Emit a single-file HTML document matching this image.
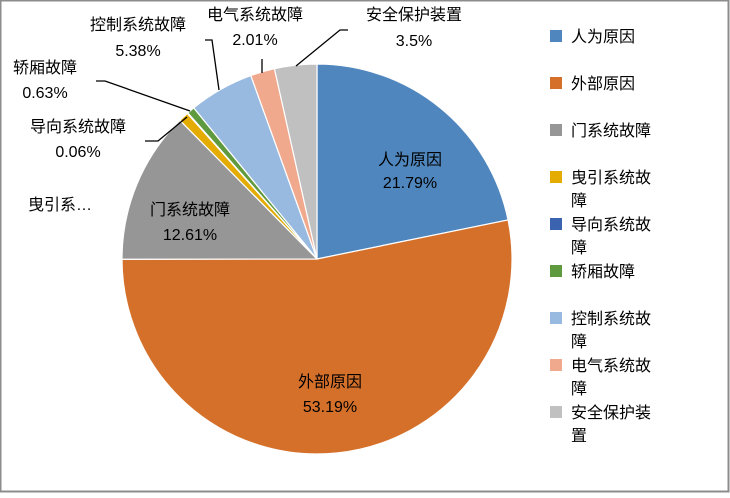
<!DOCTYPE html>
<html><head><meta charset="utf-8"><style>
html,body{margin:0;padding:0;background:#fff}
svg text{font-family:"Liberation Sans","Noto Sans CJK SC",sans-serif;fill:#000}
</style></head><body>
<svg id="chart" width="730" height="493" xmlns="http://www.w3.org/2000/svg">
<rect x="0.5" y="0.5" width="728" height="491" fill="#fff" stroke="#8c8c8c" stroke-width="2"/>
<g id="slices"></g>
<g id="labels"></g>
<g id="legend"></g>
</svg>
<script>
const categories=["人为原因","外部原因","门系统故障","曳引系统故障","导向系统故障","轿厢故障","控制系统故障","电气系统故障","安全保护装置"];
const values=[21.79,53.19,12.61,0.83,0.06,0.63,5.38,2.01,3.5];
const valueLabels=["21.79%","53.19%","12.61%","","0.06%","0.63%","5.38%","2.01%","3.5%"];
const colors=["#4f86bd","#d5702b","#969696","#e4ab00","#3a64b0","#5f9a3f","#98b9e0","#f1a98e","#c0c0c0"];
const cx=317,cy=259,r=195;
const NS="http://www.w3.org/2000/svg";
function mk(t,a,p){const e=document.createElementNS(NS,t);for(const k in a)e.setAttribute(k,a[k]);p.appendChild(e);return e;}
const total=values.reduce((a,b)=>a+b,0);
function ang(v){return v/total*2*Math.PI;}
let a0=-Math.PI/2;
const sg=document.getElementById('slices');
values.forEach((v,i)=>{
  const a1=a0+ang(v);
  const x0=cx+r*Math.cos(a0),y0=cy+r*Math.sin(a0),x1=cx+r*Math.cos(a1),y1=cy+r*Math.sin(a1);
  const large=(a1-a0)>Math.PI?1:0;
  const p=mk('path',{d:`M${cx},${cy}L${x0},${y0}A${r},${r} 0 ${large} 1 ${x1},${y1}Z`,fill:colors[i],stroke:'#fff','stroke-width':1.2},sg);
  
  
  a0=a1;
});
// label layout (positions only)
const labelPos=[[410,165,188],[330,387,412],[190,215,240],[60,210,null],[78,132,157],[45,73,98],[138,30,56],[255,20,45],[414,20,46]];
const lg=document.getElementById('labels');
categories.forEach((c,i)=>{
  const [x,y1,y2]=labelPos[i];
  const t=mk('text',{x:x,y:y1,'text-anchor':'middle','font-size':16},lg);
  t.textContent=i===3?"曳引系…":c;
  
  
  if(y2!==null){
    const t2=mk('text',{x:x,y:y2,'text-anchor':'middle','font-size':16},lg);
    t2.textContent=valueLabels[i];
    
    
  }
});
const leaders=["145,141 158,141 187,117","96,81 105,81 190,111","205,40 212,40 219,90","262,59 262,73","348,30 340,30 296,66"];
leaders.forEach((pts,i)=>{
  const l=mk('polyline',{points:pts,fill:'none',stroke:'#000','stroke-width':1.3},lg);
  
  
});
const leg=document.getElementById('legend');
const legendLines=[["人为原因"],["外部原因"],["门系统故障"],["曳引系统故","障"],["导向系统故","障"],["轿厢故障"],["控制系统故","障"],["电气系统故","障"],["安全保护装","置"]];
legendLines.forEach((ls,i)=>{
  const y=36+i*47;
  const g=mk('g',{},leg);
  
  
  mk('rect',{x:550,y:y-6,width:12,height:12,fill:colors[i]},g);
  ls.forEach((s,j)=>{
    const t=mk('text',{x:571,y:y+6+j*23,'font-size':16},g);
    t.textContent=s;
  });
});
</script>
</body></html>
